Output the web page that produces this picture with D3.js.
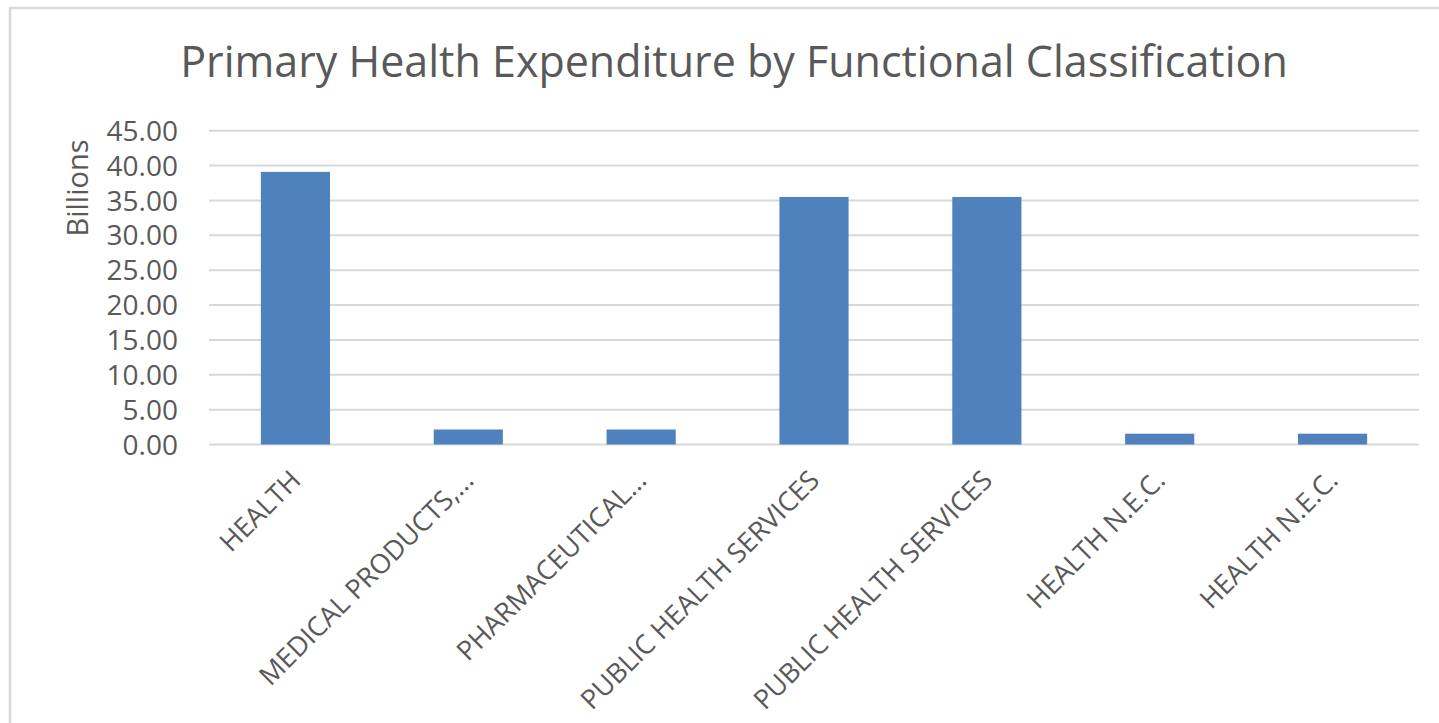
<!DOCTYPE html>
<html>
<head>
	<meta charset="utf-8">
	<title>Primary Health Expenditure by Functional Classification</title>
	<script src="https://cdn.jsdelivr.net/npm/d3@7"></script>
	<style>
		body { margin: 0; background: #fff; }
		svg text { font-family: "Open Sans", "Noto Sans", sans-serif; fill: #595959; }
	</style>
</head>
<body>
	<div id="chart"></div>
	<script type="text/javascript">

		// data
		var categories = ["HEALTH", "MEDICAL PRODUCTS,...", "PHARMACEUTICAL...", "PUBLIC HEALTH SERVICES",
			"PUBLIC HEALTH SERVICES", "HEALTH N.E.C.", "HEALTH N.E.C."];
		var values = [39.1, 2.15, 2.15, 35.5, 35.5, 1.55, 1.55];
		var yTicks = [0, 5, 10, 15, 20, 25, 30, 35, 40, 45];
		var titleText = "Primary Health Expenditure by Functional Classification";
		var yLabel = "Billions";

		var width = 1439, height = 723;
		var plot = {left: 209, right: 1419, top: 130.7, bottom: 444.5};

		var svg = d3.select("#chart").append("svg")
			.attr("width", width)
			.attr("height", height);

		// chart area border
		svg.append("rect")
			.attr("x", 10).attr("y", 8)
			.attr("width", 1440).attr("height", 730)
			.attr("fill", "#fff")
			.attr("stroke", "#d9d9d9")
			.attr("stroke-width", 2.5);

		//scales
		var x = d3.scaleBand()
			.domain(d3.range(categories.length))
			.range([plot.left, plot.right])
			.paddingInner(0.6)
			.paddingOuter(0.3);

		var y = d3.scaleLinear()
			.domain([0, 45])
			.range([plot.bottom, plot.top]);

		// gridlines
		svg.append("g").selectAll("line")
			.data(yTicks)
			.enter().append("line")
			.attr("x1", plot.left).attr("x2", plot.right)
			.attr("y1", function(d) { return y(d); })
			.attr("y2", function(d) { return y(d); })
			.attr("stroke", "#d9d9d9")
			.attr("stroke-width", 2);

		// y tick labels
		svg.append("g").selectAll("text")
			.data(yTicks)
			.enter().append("text")
			.attr("x", 178)
			.attr("y", function(d) { return y(d); })
			.attr("dy", "0.36em")
			.attr("text-anchor", "end")
			.style("font-size", "28px")
			.text(function(d) { return d3.format(".2f")(d); });

		// bars
		svg.append("g").selectAll("rect")
			.data(values)
			.enter().append("rect")
			.attr("x", function(d, i) { return x(i); })
			.attr("width", x.bandwidth())
			.attr("y", function(d) { return y(d); })
			.attr("height", function(d) { return y(0) - y(d); })
			.attr("fill", "#4f81bd");

		// category labels, rotated
		svg.append("g").selectAll("text")
			.data(categories)
			.enter().append("text")
			.attr("text-anchor", "end")
			.attr("transform", function(d, i) {
				return "translate(" + (x(i) + x.bandwidth() / 2 + 7) + "," + 482 + ") rotate(-45)";
			})
			.style("font-size", "27px")
			.text(function(d) { return d; });

		// title
		svg.append("text")
			.attr("x", 734)
			.attr("y", 77)
			.attr("text-anchor", "middle")
			.style("font-size", "43px")
			.text(titleText);

		// y axis title
		svg.append("text")
			.attr("transform", "translate(88,188) rotate(-90)")
			.attr("text-anchor", "middle")
			.style("font-size", "29px")
			.text(yLabel);

	</script>
</body>
</html>
